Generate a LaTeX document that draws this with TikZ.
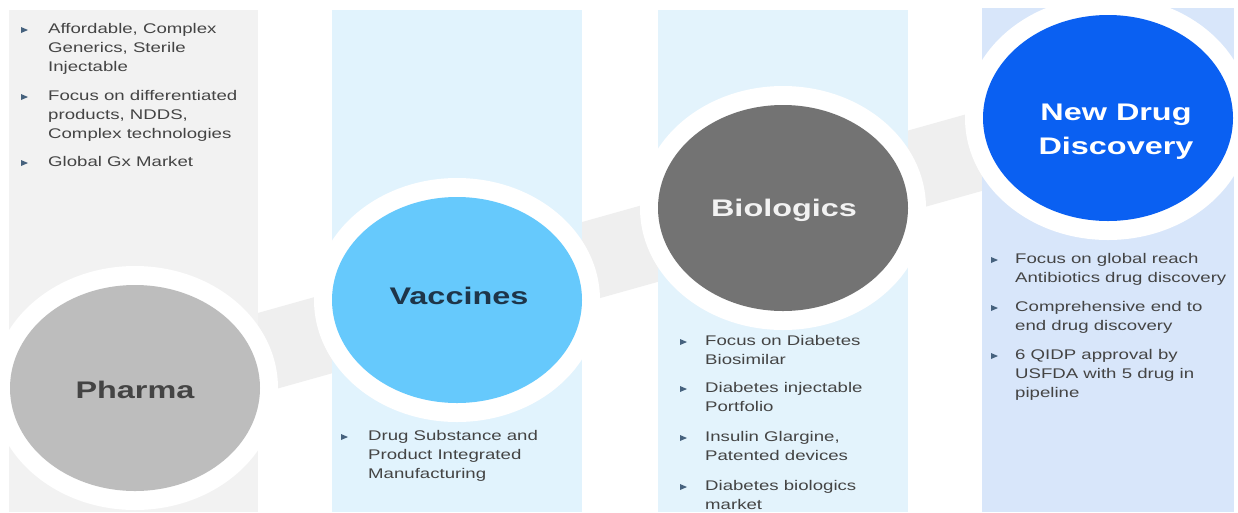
\documentclass[tikz,border=0pt]{standalone}
\usepackage{fontspec}
\setmainfont{Liberation Sans}
\usetikzlibrary{shapes.geometric}
\definecolor{panA}{HTML}{F2F2F2}
\definecolor{panB}{HTML}{E1F3FD}
\definecolor{panC}{HTML}{E3F3FC}
\definecolor{panD}{HTML}{D8E6FA}
\definecolor{bandc}{HTML}{EFEFEF}
\definecolor{phc}{HTML}{BDBDBD}
\definecolor{vac}{HTML}{66C9FC}
\definecolor{bioc}{HTML}{737373}
\definecolor{ndc}{HTML}{0A60F2}
\definecolor{txtc}{HTML}{444444}
\definecolor{bulc}{HTML}{46627E}
\definecolor{vactxt}{HTML}{1E3549}
\newcommand{\sx}[1]{\scalebox{1.33}[1]{#1}}
\newcommand{\tx}[1]{\scalebox{1.35}[1]{#1}}
\newcommand{\bul}[2]{\fill[bulc] (#1,#2) ++(0,-3) -- ++(7,3) -- ++(-7,3) -- cycle;}
\begin{document}
\begin{tikzpicture}[x=1pt,y=-1pt,
  panel/.style={fill=#1, draw=none},
  ring/.style={ellipse, fill=white, inner sep=0pt, minimum width=286pt, minimum height=244pt},
  disc/.style={ellipse, fill=#1, inner sep=0pt, minimum width=250pt, minimum height=206pt},
  title/.style={font=\fontsize{24}{34}\selectfont\bfseries, align=center, inner sep=0pt},
  item/.style={anchor=north west, inner sep=0pt, align=left, font=\fontsize{14}{19}\selectfont, text=txtc}]
\useasboundingbox (0,0) rectangle (1238,512);
\fill[white] (0,0) rectangle (1238,512);
% band
\fill[bandc] (124.5,350.4) -- (1097.5,77.4) -- (1118.5,152.6) -- (145.5,425.6) -- cycle;
% panels
\fill[panel=panA] (9,10) rectangle (258,512);
\fill[panel=panB] (332,10) rectangle (582,512);
\fill[panel=panC] (658,10) rectangle (908,512);
\fill[panel=panD] (982,8) rectangle (1234,512);
% rings and discs
\node[ring] (rph) at (135,388) {};
\node[ring] (rva) at (457,300) {};
\node[ring] (rbi) at (783,208) {};
\node[ring] (rnd) at (1108,118) {};
\node[disc=phc] (ph) at (135,388) {};
\node[disc=vac] (va) at (457,300) {};
\node[disc=bioc] (bi) at (783,208) {};
\node[disc=ndc] (nd) at (1108,118) {};
\node[title, text=txtc] (tph) at (135,390) {\tx{Pharma}};
\node[title, text=vactxt] (tva) at (459,296) {\tx{Vaccines}};
\node[title, text=white!95!black] (tbi) at (784,210) {\tx{Biologics}};
\node[title, text=white] (tnd) at (1116,132) {\tx{New Drug}\\\tx{Discovery}};
% panel 1 items
\bul{21}{30}\bul{21}{97}\bul{21}{163}
\node[item] (a1) at (48,23) {\sx{Affordable, Complex}\\\sx{Generics, Sterile}\\\sx{Injectable}};
\node[item] (a2) at (48,90) {\sx{Focus on differentiated}\\\sx{products, NDDS,}\\\sx{Complex technologies}};
\node[item] (a3) at (48,156) {\sx{Global Gx Market}};
% panel 2
\bul{341}{437}
\node[item] (b1) at (368,430) {\sx{Drug Substance and}\\\sx{Product Integrated}\\\sx{Manufacturing}};
% panel 3
\bul{680}{342}\bul{680}{389}\bul{680}{438}\bul{680}{487}
\node[item] (c1) at (705,335) {\sx{Focus on Diabetes}\\\sx{Biosimilar}};
\node[item] (c2) at (705,382) {\sx{Diabetes injectable}\\\sx{Portfolio}};
\node[item] (c3) at (705,431) {\sx{Insulin Glargine,}\\\sx{Patented devices}};
\node[item] (c4) at (705,480) {\sx{Diabetes biologics}\\\sx{market}};
% panel 4
\bul{991}{260}\bul{991}{308}\bul{991}{356}
\node[item] (d1) at (1015,253) {\sx{Focus on global reach}\\\sx{Antibiotics drug discovery}};
\node[item] (d2) at (1015,301) {\sx{Comprehensive end to}\\\sx{end drug discovery}};
\node[item] (d3) at (1015,349) {\sx{6 QIDP approval by}\\\sx{USFDA with 5 drug in}\\\sx{pipeline}};
\end{tikzpicture}
\end{document}
